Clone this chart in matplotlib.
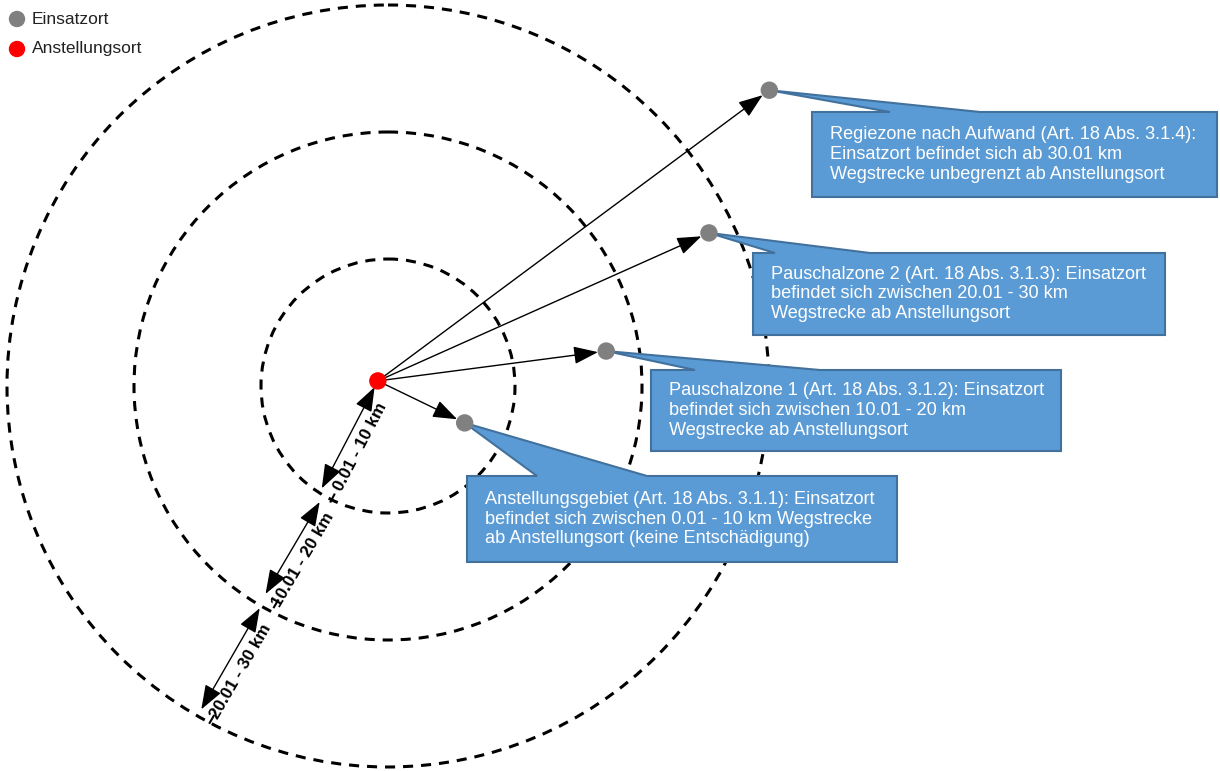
import numpy as np
import matplotlib.pyplot as plt
from matplotlib.patches import Circle, Polygon, FancyArrowPatch

plt.rcParams['font.family'] = ['Liberation Sans', 'DejaVu Sans']

# Zonengrenzen (km) und Beschriftungen der Abstandspfeile
zonen_km = [10, 20, 30]
zonen_labels = ['0.01 - 10 km', '10.01 - 20 km', '20.01 - 30 km']

# Einsatzorte: Entfernung (km) und Richtung (Grad) vom Kreismittelpunkt
einsatz_km = [6.7, 17.4, 28.0, 38.0]
einsatz_winkel = [-25.7, 9.1, 25.5, 37.8]

# Anstellungsort (km, x/y relativ zum Kreismittelpunkt)
anstellung_km = (-0.8, 0.4)

legende = ['Einsatzort', 'Anstellungsort']

callout_texte = [
    'Anstellungsgebiet (Art. 18 Abs. 3.1.1): Einsatzort\n'
    'befindet sich zwischen 0.01 - 10 km Wegstrecke\n'
    'ab Anstellungsort (keine Entschädigung)',
    'Pauschalzone 1 (Art. 18 Abs. 3.1.2): Einsatzort\n'
    'befindet sich zwischen 10.01 - 20 km\n'
    'Wegstrecke ab Anstellungsort',
    'Pauschalzone 2 (Art. 18 Abs. 3.1.3): Einsatzort\n'
    'befindet sich zwischen 20.01 - 30 km\n'
    'Wegstrecke ab Anstellungsort',
    'Regiezone nach Aufwand (Art. 18 Abs. 3.1.4):\n'
    'Einsatzort befindet sich ab 30.01 km\n'
    'Wegstrecke unbegrenzt ab Anstellungsort',
]

# --- Layout (Pixel) ---
CX, CY = 388, 386   # Kreismittelpunkt
S = 12.7            # Pixel pro km
BLAU = '#5B9BD5'
BLAU_RAND = '#41719C'
GRAU = '#808080'
ROT = '#FF0000'

# Boxen: x0, y0, x1, y1, Fuss der Spitze xa, xb
boxen = [
    (467, 476, 897, 562, 537, 647),
    (651, 370, 1061, 451, 695, 820),
    (753, 253, 1165, 335, 775, 870),
    (812, 112, 1217, 197, 890, 980),
]

# Abstandspfeile: (r_start, r_ende, winkel), None = ab Anstellungsort
pfeile = [(None, 9.6, -122.9), (10.6, 19.0, -120.5), (20.2, 29.4, -120.0)]


def pos(r, w):
    a = np.radians(w)
    return CX + r * S * np.cos(a), CY - r * S * np.sin(a)


fig = plt.figure(figsize=(12.2, 7.71), dpi=100)
ax = fig.add_axes([0, 0, 1, 1])
ax.set_xlim(0, 1220)
ax.set_ylim(771, 0)
ax.axis('off')

# gestrichelte Zonenkreise
for r in zonen_km:
    ax.add_patch(Circle((CX, CY), r * S, fill=False, ec='black', lw=2.2,
                        ls=(0, (3.3, 2.6)), zorder=1))

ax_x = CX + anstellung_km[0] * S
ax_y = CY - anstellung_km[1] * S

pfeil_stil = '-|>,head_length=0.6,head_width=0.22'

# Pfeile zu den Einsatzorten
for d, w in zip(einsatz_km, einsatz_winkel):
    ax.add_patch(FancyArrowPatch((ax_x, ax_y), pos(d, w), arrowstyle=pfeil_stil,
                                 mutation_scale=25, lw=1.0, color='black',
                                 shrinkA=5, shrinkB=6, zorder=2))

# Abstandspfeile mit Beschriftung
for (r0, r1, w), txt in zip(pfeile, zonen_labels):
    p0 = np.array((ax_x, ax_y)) if r0 is None else np.array(pos(r0, w))
    p1 = np.array(pos(r1, w))
    ax.add_patch(FancyArrowPatch(tuple(p0), tuple(p1),
                                 arrowstyle='<|-|>,head_length=0.6,head_width=0.22',
                                 mutation_scale=25, lw=1.0, color='black',
                                 shrinkA=5 if r0 is None else 0, shrinkB=0,
                                 zorder=2))
    d = (p1 - p0) / np.hypot(*(p1 - p0))
    senk = np.array((-d[1], d[0]))        # zur rechten/unteren Seite
    if senk[0] < 0:
        senk = -senk
    rot = np.degrees(np.arctan2(d[1], -d[0]))
    lp = p0 + (p1 - p0) * 0.55 + senk * 15
    ax.text(lp[0], lp[1], txt, rotation=rot, rotation_mode='anchor',
            ha='center', va='center', fontsize=12.3, fontweight='bold', zorder=2)
    mp = p0 + (p1 - p0) * 1.03 + senk * 14
    ax.plot([mp[0] - d[0] * 4, mp[0] + d[0] * 4],
            [mp[1] - d[1] * 4, mp[1] + d[1] * 4], color='black', lw=1.5, zorder=2)

# Sprechblasen
for (x0, y0, x1, y1, xa, xb), d, w, txt in zip(boxen, einsatz_km, einsatz_winkel, callout_texte):
    sx, sy = pos(d, w)
    verts = [(x0, y0), (xa, y0), (sx, sy), (xb, y0), (x1, y0), (x1, y1), (x0, y1)]
    ax.add_patch(Polygon(verts, closed=True, fc=BLAU, ec=BLAU_RAND, lw=1.5,
                         joinstyle='miter', zorder=3))
    ax.text(x0 + 18, (y0 + y1) / 2, txt, color='white', fontsize=13.1,
            ha='left', va='center', linespacing=1.2, zorder=4)

# Punkte
for d, w in zip(einsatz_km, einsatz_winkel):
    ax.add_patch(Circle(pos(d, w), 8, color=GRAU, zorder=5))
ax.add_patch(Circle((ax_x, ax_y), 8, color=ROT, zorder=5))

# Legende
for i, (lab, col) in enumerate(zip(legende, [GRAU, ROT])):
    y = 19 + i * 30
    ax.add_patch(Circle((17, y), 7.5, color=col, zorder=5))
    ax.text(32, y, lab, fontsize=12.5, ha='left', va='center', color='#222222')

fig.savefig('out.png', dpi=100)
